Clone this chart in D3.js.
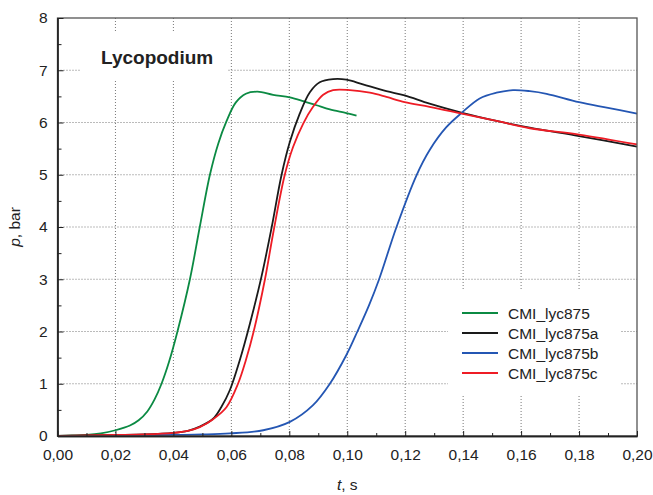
<!DOCTYPE html>
<html>
<head>
<meta charset="utf-8">
<script src="https://cdn.jsdelivr.net/npm/d3@7"></script>
<style>
  body { margin: 0; background: #fff; }
  text { font-family: Arial, "Liberation Sans", sans-serif; fill: #222; }
</style>
</head>
<body>
<div id="main"></div>
<script>
// series names and colours
const seriesNames = ['CMI_lyc875', 'CMI_lyc875a', 'CMI_lyc875b', 'CMI_lyc875c'];
const seriesColors = ['#0b8a43', '#1a1a1a', '#2456b3', '#ee1c25'];

// time (s) and pressure (bar)
const tGreen = [0, 0.005, 0.01, 0.015, 0.02, 0.025, 0.028, 0.031, 0.0335, 0.0359, 0.0385, 0.0414, 0.0457, 0.0491, 0.0526, 0.0555, 0.0583, 0.0615, 0.065, 0.069, 0.0744, 0.0802, 0.0848, 0.0894, 0.094, 0.0997, 0.1032];
const pGreen = [0, 0.01, 0.02, 0.05, 0.11, 0.2, 0.3, 0.47, 0.7, 1.0, 1.42, 2.0, 3.0, 4.0, 5.0, 5.6, 6.02, 6.38, 6.55, 6.59, 6.53, 6.48, 6.41, 6.33, 6.25, 6.18, 6.13];

const tBlack = [0, 0.01, 0.02, 0.03, 0.04, 0.045, 0.0491, 0.0537, 0.0565, 0.0595, 0.0629, 0.0664, 0.0704, 0.0739, 0.0773, 0.0802, 0.0836, 0.0871, 0.0905, 0.0951, 0.0997, 0.1054, 0.1135, 0.1198, 0.1284, 0.14, 0.1515, 0.163, 0.18, 0.2];
const pBlack = [0, 0.01, 0.02, 0.03, 0.06, 0.1, 0.18, 0.33, 0.55, 0.88, 1.45, 2.15, 3.05, 3.99, 4.99, 5.63, 6.17, 6.58, 6.77, 6.83, 6.82, 6.73, 6.6, 6.52, 6.36, 6.18, 6.03, 5.9, 5.74, 5.54];

const tBlue = [0.004, 0.01, 0.02, 0.03, 0.04, 0.05, 0.0595, 0.071, 0.0802, 0.0882, 0.094, 0.0997, 0.1035, 0.1075, 0.111, 0.117, 0.1239, 0.1284, 0.1342, 0.1394, 0.1457, 0.1515, 0.1572, 0.163, 0.1688, 0.18, 0.19, 0.2];
const pBlue = [0, 0, 0, 0.01, 0.02, 0.03, 0.05, 0.11, 0.27, 0.59, 1.0, 1.55, 2.0, 2.5, 3.0, 4.0, 4.99, 5.47, 5.91, 6.18, 6.46, 6.57, 6.62, 6.6, 6.55, 6.39, 6.28, 6.17];

const tRed = [0, 0.01, 0.02, 0.03, 0.04, 0.045, 0.0491, 0.0537, 0.0583, 0.0623, 0.065, 0.0677, 0.0716, 0.0745, 0.0784, 0.0813, 0.0848, 0.0882, 0.0917, 0.0951, 0.1009, 0.1078, 0.1135, 0.1198, 0.1284, 0.1395, 0.1515, 0.163, 0.18, 0.2];
const pRed = [0, 0.01, 0.02, 0.03, 0.06, 0.1, 0.17, 0.32, 0.55, 1.0, 1.45, 2.0, 3.0, 3.9, 4.99, 5.53, 5.98, 6.3, 6.53, 6.62, 6.62, 6.57, 6.49, 6.39, 6.30, 6.17, 6.03, 5.89, 5.77, 5.58];

const seriesT = [tGreen, tBlack, tBlue, tRed];
const seriesP = [pGreen, pBlack, pBlue, pRed];

// axis ticks
const xTicks = [0, 0.02, 0.04, 0.06, 0.08, 0.10, 0.12, 0.14, 0.16, 0.18, 0.20];
const xMinor = d3.range(0.01, 0.2, 0.02);
const yTicks = [0, 1, 2, 3, 4, 5, 6, 7, 8];
const yMinor = d3.range(0.5, 8, 1);

const width = 653, height = 495;
const margin = { left: 57.5, top: 18, right: 16, bottom: 59 };
const plotW = width - margin.left - margin.right;
const plotH = height - margin.top - margin.bottom;

const x = d3.scaleLinear().domain([0, 0.2]).range([0, plotW]);
const y = d3.scaleLinear().domain([0, 8]).range([plotH, 0]);

const svg = d3.select('#main').append('svg')
    .attr('width', width)
    .attr('height', height);

const g = svg.append('g').attr('transform', `translate(${margin.left},${margin.top})`);

// dotted grid
g.selectAll('.vgrid')
    .data(xTicks.slice(1, -1))
    .enter().append('line')
        .attr('x1', d => x(d)).attr('x2', d => x(d))
        .attr('y1', 0).attr('y2', plotH)
        .attr('stroke', '#777').attr('stroke-width', 1).attr('stroke-dasharray', '1,2');
g.selectAll('.hgrid')
    .data(yTicks.slice(1, -1))
    .enter().append('line')
        .attr('x1', 0).attr('x2', plotW)
        .attr('y1', d => y(d)).attr('y2', d => y(d))
        .attr('stroke', '#777').attr('stroke-width', 1).attr('stroke-dasharray', '1,2');

// white boxes behind the title and the legend
g.append('rect')
    .attr('x', 80 - margin.left).attr('y', 33 - margin.top)
    .attr('width', 147).attr('height', 47)
    .attr('fill', '#fff');
g.append('rect')
    .attr('x', 448 - margin.left).attr('y', 290 - margin.top)
    .attr('width', 173).attr('height', 106)
    .attr('fill', '#fff');

// curves
const line = d3.line()
    .x(d => x(d[0]))
    .y(d => y(d[1]))
    .curve(d3.curveCatmullRom.alpha(0.5));

seriesNames.forEach((name, i) => {
    const pts = seriesT[i].map((t, j) => [t, seriesP[i][j]]);
    g.append('path')
        .datum(pts)
        .attr('fill', 'none')
        .attr('stroke', seriesColors[i])
        .attr('stroke-width', 1.8)
        .attr('d', line);
});

// frame
g.append('rect')
    .attr('x', 0).attr('y', 0)
    .attr('width', plotW).attr('height', plotH)
    .attr('fill', 'none')
    .attr('stroke', '#555').attr('stroke-width', 1.3);

// axes, ticks point inwards
const fmt = d => d3.format('.2f')(d).replace('.', ',');
g.append('g')
    .attr('transform', `translate(0,${plotH})`)
    .call(d3.axisBottom(x).tickValues(xTicks).tickFormat(fmt).tickSizeInner(-5).tickSizeOuter(0).tickPadding(13));
g.append('g')
    .attr('transform', `translate(0,${plotH})`)
    .call(d3.axisBottom(x).tickValues(xMinor).tickFormat('').tickSizeInner(-3).tickSizeOuter(0));
g.append('g')
    .call(d3.axisLeft(y).tickValues(yTicks).tickFormat(d3.format('d')).tickSizeInner(-6).tickSizeOuter(0).tickPadding(10));
g.append('g')
    .call(d3.axisLeft(y).tickValues(yMinor).tickFormat('').tickSizeInner(-4).tickSizeOuter(0));

g.selectAll('.domain').attr('stroke', '#222').attr('stroke-width', 1.3);
g.selectAll('.tick line').attr('stroke', '#222');
g.selectAll('.tick text').style('font-size', '15.5px').attr('fill', '#222');

// axis titles
const xt = svg.append('text')
    .attr('x', margin.left + plotW / 2)
    .attr('y', 490)
    .attr('text-anchor', 'middle')
    .style('font-size', '15.5px');
xt.append('tspan').style('font-style', 'italic').text('t');
xt.append('tspan').text(', s');

const yt = svg.append('text')
    .attr('transform', `translate(20,${margin.top + plotH / 2}) rotate(-90)`)
    .attr('text-anchor', 'middle')
    .style('font-size', '15.5px');
yt.append('tspan').style('font-style', 'italic').text('p');
yt.append('tspan').text(', bar');

// title inside the plot
svg.append('text')
    .attr('x', 101)
    .attr('y', 64)
    .style('font-size', '19px')
    .style('font-weight', 'bold')
    .text('Lycopodium');

// legend
const legend = svg.append('g').attr('transform', 'translate(462,313)');
seriesNames.forEach((name, i) => {
    const row = legend.append('g').attr('transform', `translate(0,${i * 20})`);
    row.append('line')
        .attr('x1', 0).attr('x2', 36)
        .attr('stroke', seriesColors[i]).attr('stroke-width', 2);
    row.append('text')
        .attr('x', 46).attr('dy', '0.36em')
        .style('font-size', '15.5px')
        .text(name);
});
</script>
</body>
</html>
